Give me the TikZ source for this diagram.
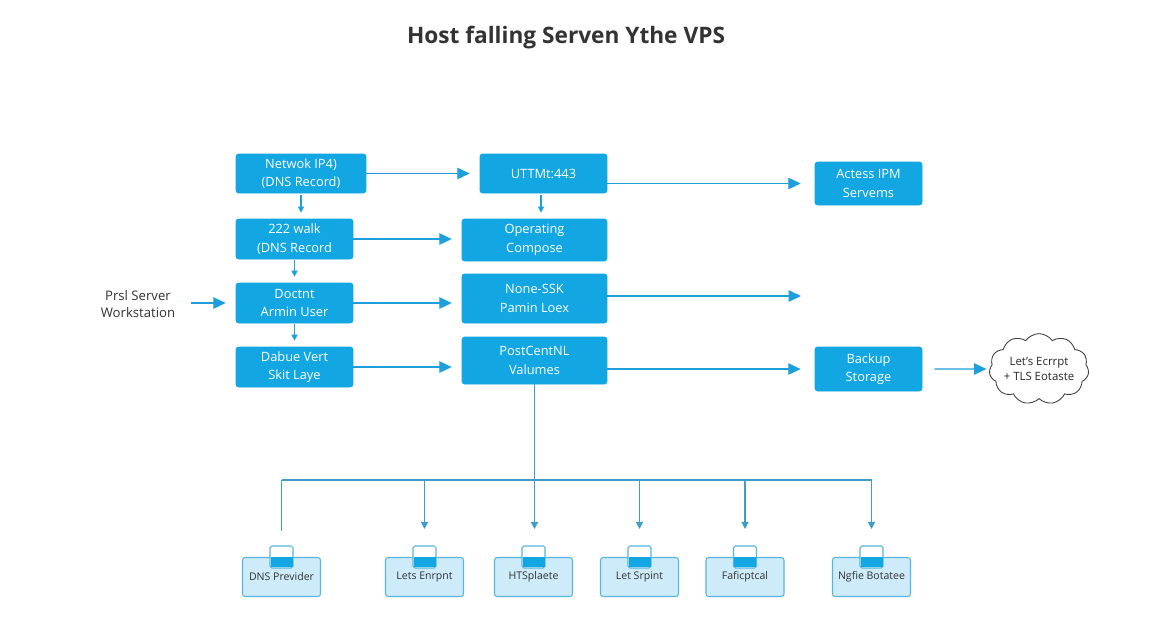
\documentclass[tikz,border=0pt]{standalone}
\usepackage{fontspec}
\setmainfont{Open Sans}
\usetikzlibrary{arrows.meta,shapes.symbols}
\definecolor{boxblue}{HTML}{12A6E2}
\definecolor{arrblue}{HTML}{1C9FDA}
\definecolor{busblue}{HTML}{3E9DC9}
\definecolor{lightfill}{HTML}{CDEBF8}
\definecolor{lightedge}{HTML}{5AB5DE}
\definecolor{titlegray}{HTML}{333333}
\tikzset{
  bluebox/.style={rectangle, rounded corners=1.5pt, fill=boxblue, draw=boxblue, text=white,
    font=\fontsize{7.3}{10.5}\selectfont, align=center, inner sep=0pt},
  arr/.style={draw=arrblue, line width=0.7pt, -{Triangle[length=7pt,width=6.5pt]}},
  darr/.style={draw=arrblue, line width=0.7pt, -{Triangle[length=3.5pt,width=3.5pt]}},
  busline/.style={draw=busblue, line width=0.7pt},
  busarr/.style={draw=busblue, line width=0.7pt, -{Triangle[length=4pt,width=4pt]}},
  lightbox/.style={rectangle, rounded corners=1.5pt, fill=lightfill, draw=lightedge, line width=0.6pt,
    font=\fontsize{6}{8}\selectfont, text=black!80, minimum width=1.56cm, minimum height=0.78cm, inner sep=0pt},
  plain/.style={font=\fontsize{7.5}{10}\selectfont, align=center, text=black!80}
}
\begin{document}
\begin{tikzpicture}[x=0.02cm,y=-0.02cm]
\useasboundingbox (0,0) rectangle (1152,640);
\fill[white] (0,0) rectangle (1152,640);
\node[font=\bfseries\fontsize{12.9}{16}\selectfont, text=titlegray] (title) at (566,38) {Host falling Serven Ythe VPS};

% left column
\node[bluebox, minimum width=2.6cm, minimum height=0.78cm] (N1) at (301,173.5) {Netwok IP4)\\(DNS Record)};
\node[bluebox, minimum width=2.34cm, minimum height=0.8cm] (N2) at (294.5,239) {222 walk\\(DNS Record};
\node[bluebox, minimum width=2.34cm, minimum height=0.8cm] (N3) at (294.5,303) {Doctnt\\Armin User};
\node[bluebox, minimum width=2.34cm, minimum height=0.8cm] (N4) at (294.5,367) {Dabue Vert\\Skit Laye};
\node[plain] (ws) at (138,304) {Prsl Server\\Workstation};
\coordinate (wsr) at (191,303);

% middle column
\node[bluebox, minimum width=2.54cm, minimum height=0.78cm] (M1) at (543.5,173.5) {UTTMt:443};
\node[bluebox, minimum width=2.9cm, minimum height=0.84cm] (M2) at (534.5,240) {Operating\\Compose};
\node[bluebox, minimum width=2.9cm, minimum height=0.98cm] (M3) at (534.5,298.5) {None-SSK\\Pamin Loex};
\node[bluebox, minimum width=2.9cm, minimum height=0.94cm] (M4) at (534.5,360.5) {PostCentNL\\Valumes};

% right column
\node[bluebox, minimum width=2.14cm, minimum height=0.86cm] (R1) at (868.5,183.5) {Actess IPM\\Servems};
\node[bluebox, minimum width=2.14cm, minimum height=0.88cm] (R2) at (868.5,369) {Backup\\Storage};
\node[cloud, cloud puffs=11, cloud puff arc=110, aspect=1.6, draw=black!75, fill=white, line width=0.5pt,
  minimum width=1.75cm, minimum height=1.15cm, inner sep=-1pt, align=center,
  font=\fontsize{6.5}{8.8}\selectfont, text=black!85] (C) at (1039,369) {Let's Ecrrpt\\+ TLS Eotaste};
\coordinate (free) at (801,296);

% vertical arrows
\draw[darr] (N1.south) ++(0,2) -- ([yshift=0.12cm]N1.south |- N2.north);
\draw[darr] (N2.south) ++(0,1) -- ([yshift=0.12cm]N2.south |- N3.north);
\draw[darr] (N3.south) ++(0,1) -- ([yshift=0.12cm]N3.south |- N4.north);
\draw[darr] ([xshift=-0.05cm]M1.south) ++(0,2) -- ([xshift=-0.05cm,yshift=0.12cm]M1.south |- M2.north);

% horizontal arrows
\draw[arr, shorten >=0.2cm] (N1.east) -- (M1.west |- N1.east);
\draw[arr, shorten >=0.2cm] (N2.east) -- (M2.west |- N2.east);
\draw[arr, shorten >=0.2cm] (N3.east) -- (M3.west |- N3.east);
\draw[arr, shorten >=0.2cm] (N4.east) -- (M4.west |- N4.east);
\draw[arr, shorten >=0.2cm] (wsr) -- (N3.west);
\draw[arr, shorten >=0.28cm] (M1.east |- R1.west) -- (R1.west);
\draw[arr] (M3.east |- free) -- (free);
\draw[arr, shorten >=0.28cm] (M4.east |- R2.west) -- (R2.west);
\draw[arr, shorten <=0.24cm, shorten >=0.06cm] (R2.east) -- (C.west);

% bottom boxes
\node[lightbox] (B1) at (281.5,577) {DNS Previder};
\node[lightbox] (B2) at (424.5,577) {Lets Enrpnt};
\node[lightbox] (B3) at (533.5,577) {HTSplaete};
\node[lightbox] (B4) at (639.5,577) {Let Srpint};
\node[lightbox] (B5) at (745,577) {Faficptcal};
\node[lightbox] (B6) at (871.5,577) {Ngfie Botatee};
\foreach \b in {B1,B2,B3,B4,B5,B6}{
  \draw[lightedge, fill=white, line width=0.6pt, rounded corners=1pt]
    ([xshift=-0.23cm,yshift=0.22cm]\b.north) rectangle ([xshift=0.23cm,yshift=-0.22cm]\b.north);
  \fill[boxblue] ([xshift=-0.22cm]\b.north) rectangle ([xshift=0.22cm,yshift=-0.21cm]\b.north);
}

% bus
\coordinate (bus) at (533,480);
\draw[busline] (B1.north |- bus) -- (B6.north |- bus);
\draw[busline] (B1.north |- bus) -- ([yshift=0.52cm]B1.north);
\draw[busarr, shorten >=0.56cm] (M4.south) -- (M4.south |- B3.north);
\draw[busarr, shorten >=0.56cm] (B2.north |- bus) -- (B2.north);
\draw[busarr, shorten >=0.56cm] (B4.north |- bus) -- (B4.north);
\draw[busarr, shorten >=0.56cm] (B5.north |- bus) -- (B5.north);
\draw[busarr, shorten >=0.56cm] (B6.north |- bus) -- (B6.north);
\end{tikzpicture}
\end{document}
